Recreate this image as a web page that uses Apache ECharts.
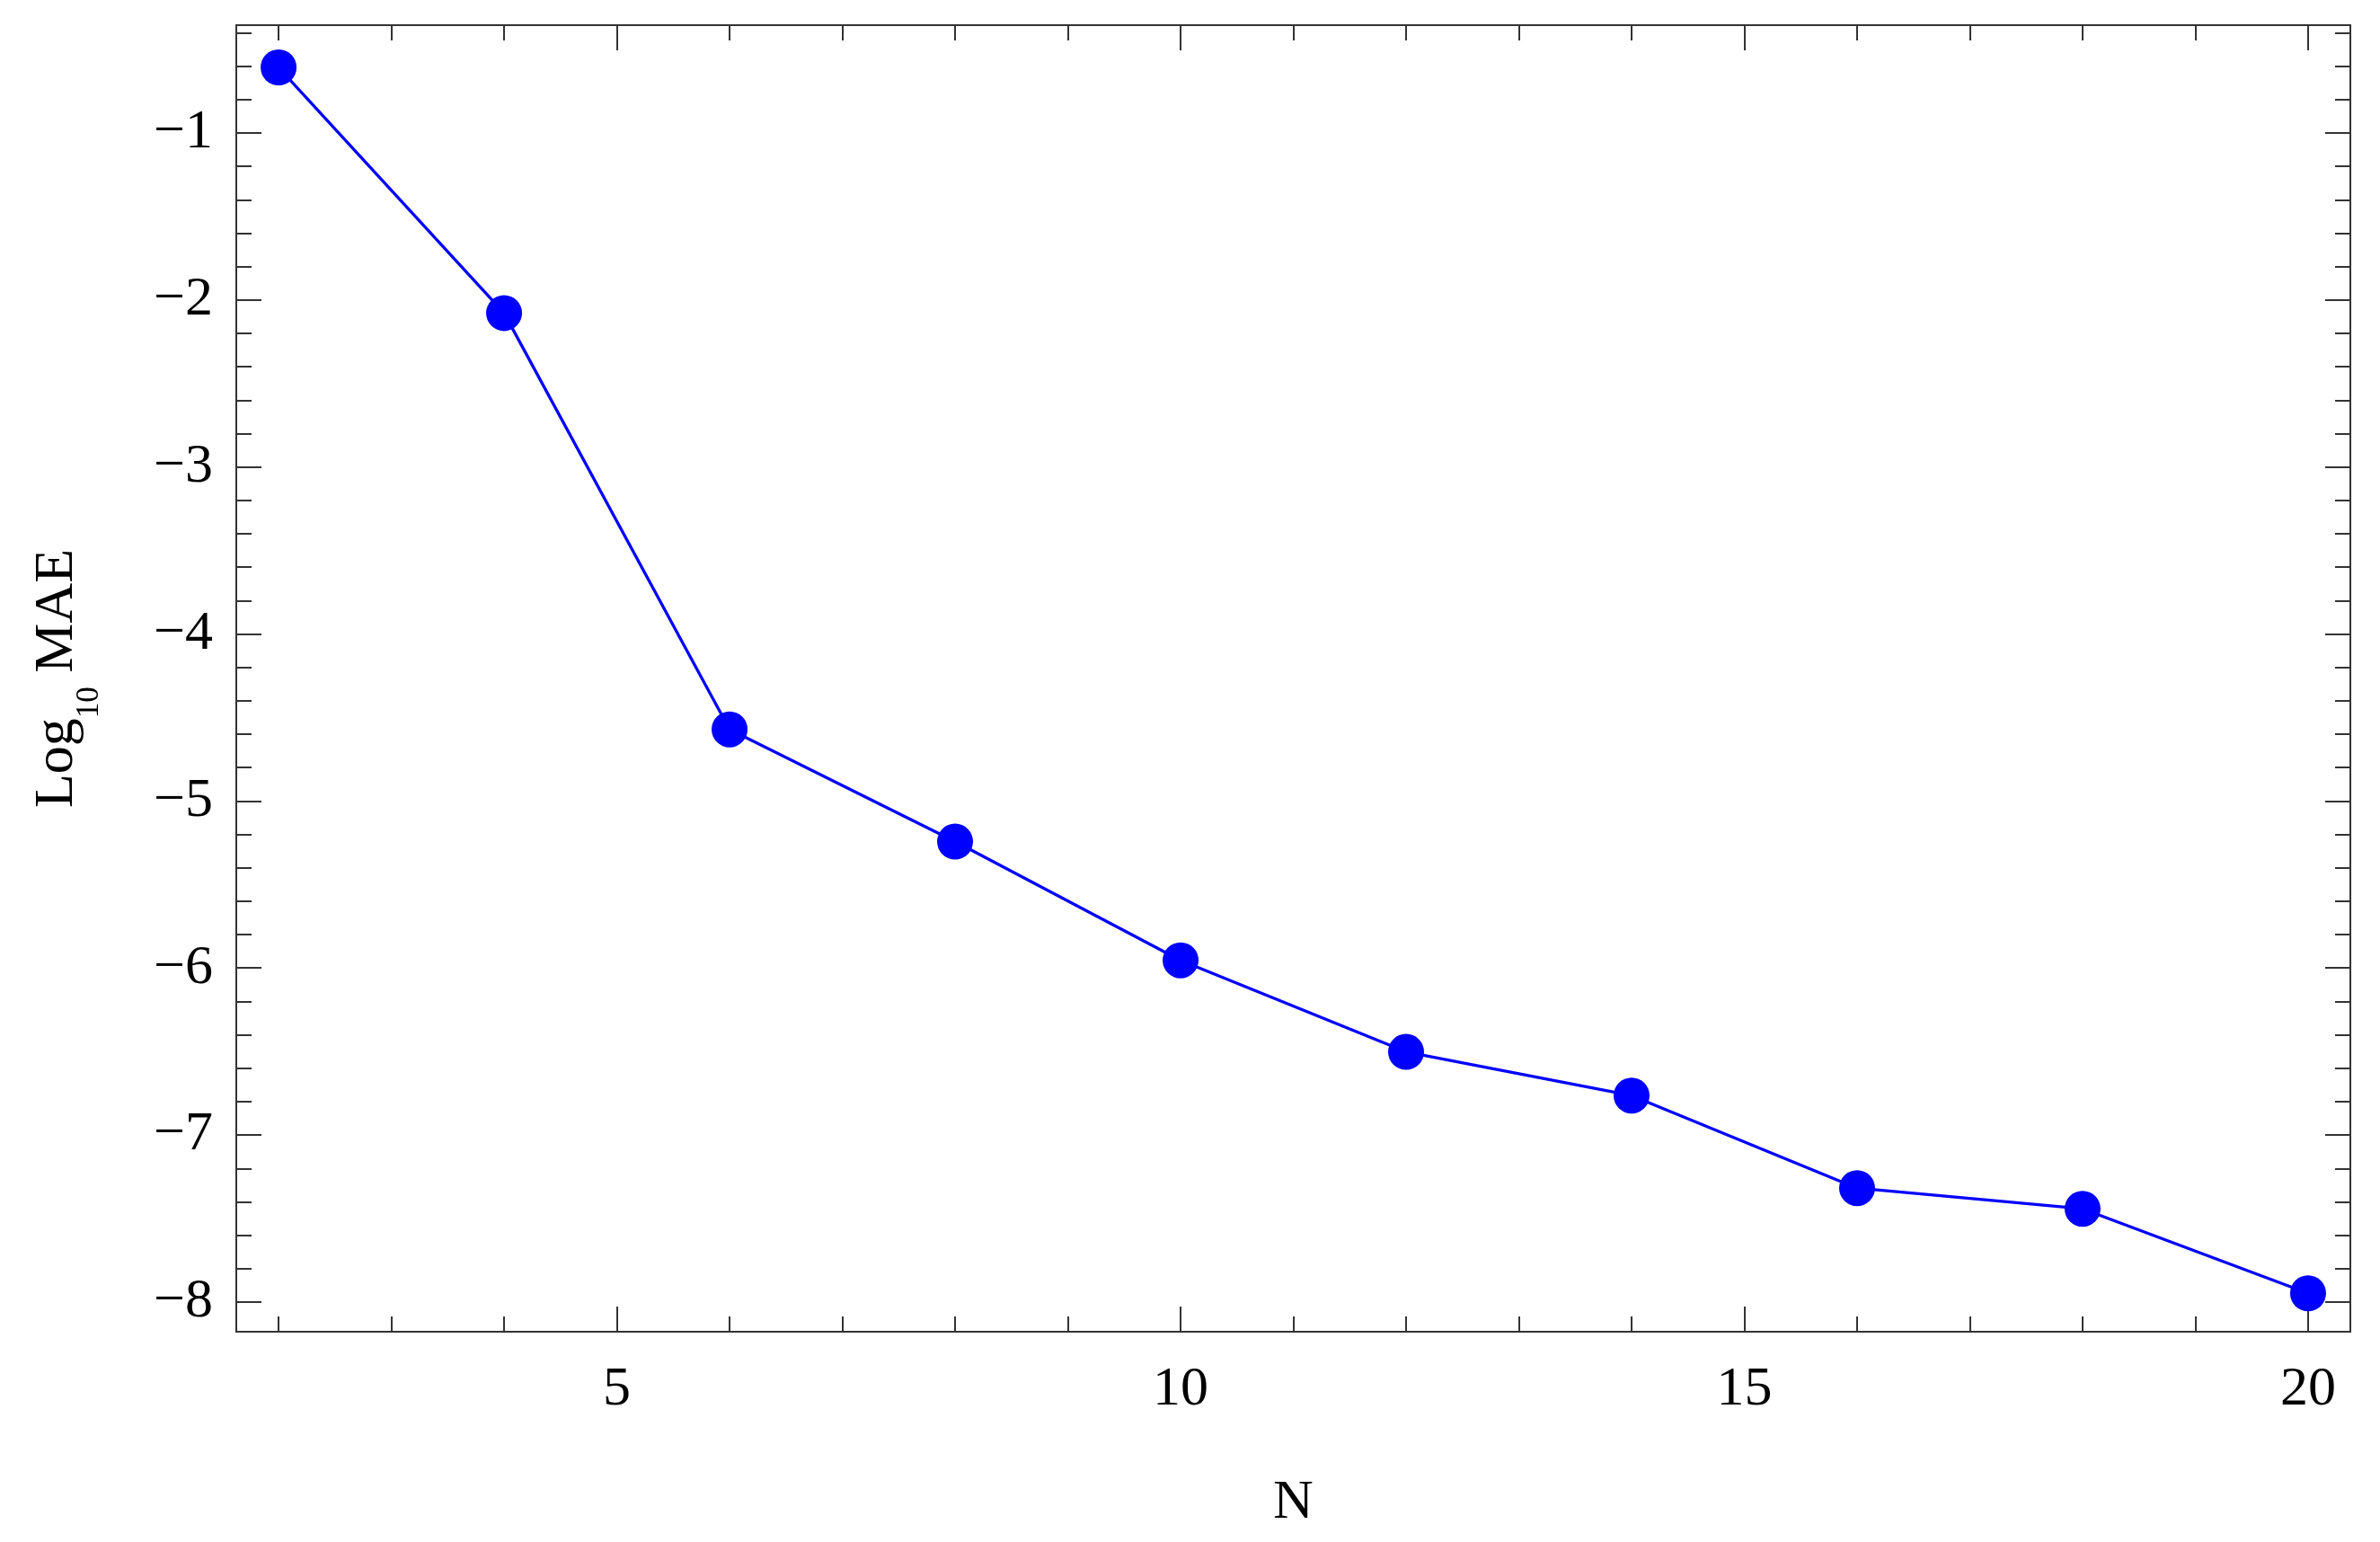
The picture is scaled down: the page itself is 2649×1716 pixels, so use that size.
<!DOCTYPE html>
<html>
<head>
<meta charset="utf-8">
<style>
  html, body { margin: 0; padding: 0; background: #ffffff; }
  #chart { width: 2649px; height: 1716px; }
</style>
<script src="https://cdn.jsdelivr.net/npm/echarts@6/dist/echarts.min.js"></script>
</head>
<body>
<div id="chart"></div>
<script>
// ---- data ----
const nValues = [2, 4, 6, 8, 10, 12, 14, 16, 18, 20];
const logMAE = [-0.607, -2.078, -4.571, -5.243, -5.954, -6.502, -6.764, -7.318, -7.442, -7.948];

// ---- ticks ----
const xMajorTicks = [5, 10, 15, 20];
const xMinorTicks = [2, 3, 4, 6, 7, 8, 9, 11, 12, 13, 14, 16, 17, 18, 19];
const yMajorTicks = [-8, -7, -6, -5, -4, -3, -2, -1];
const yMinorTicks = [];
for (let k = -8; k < 0; k++) {
  for (let j = 1; j <= 4; j++) {
    const v = Math.round((k + j * 0.2) * 10) / 10;
    if (v < -0.35) yMinorTicks.push(v);
  }
}
const xRange = [1.625, 20.375];
const yRange = [-8.178, -0.354];

const frameColor = '#333333';
const fontFam = '"Liberation Serif", "Times New Roman", serif';
const majorLen = 28, minorLen = 17;

function xAxisDef(pos, major, showLine, showLabel) {
  return {
    type: 'value', position: pos, min: xRange[0], max: xRange[1],
    axisLine: { show: showLine, onZero: false, lineStyle: { color: frameColor, width: 2 } },
    axisTick: { show: true, inside: true, length: major ? majorLen : minorLen,
                customValues: major ? xMajorTicks : xMinorTicks,
                lineStyle: { color: frameColor, width: 2 } },
    axisLabel: { show: showLabel, customValues: xMajorTicks, margin: 34,
                 fontFamily: fontFam, fontSize: 62, color: '#000' },
    splitLine: { show: false },
    minorTick: { show: false }
  };
}
function yAxisDef(pos, major, showLine, showLabel) {
  return {
    type: 'value', position: pos, min: yRange[0], max: yRange[1],
    axisLine: { show: showLine, onZero: false, lineStyle: { color: frameColor, width: 2 } },
    axisTick: { show: true, inside: true, length: major ? majorLen : minorLen,
                customValues: major ? yMajorTicks : yMinorTicks,
                lineStyle: { color: frameColor, width: 2 } },
    axisLabel: { show: showLabel, customValues: yMajorTicks, margin: 26,
                 fontFamily: fontFam, fontSize: 62, color: '#000',
                 formatter: v => String(v).replace('-', '\u2212') },
    splitLine: { show: false },
    minorTick: { show: false }
  };
}

const xAxes = [
  Object.assign(xAxisDef('bottom', true, true, true), {
    name: 'N', nameLocation: 'middle', nameGap: 160,
    nameTextStyle: { fontFamily: fontFam, fontSize: 62, color: '#000' }
  }),
  xAxisDef('bottom', false, false, false),
  xAxisDef('top', true, true, false),
  xAxisDef('top', false, false, false)
];
const yAxes = [
  Object.assign(yAxisDef('left', true, true, true), {
    name: '{m|Log}{s|10}{m| MAE}', nameLocation: 'middle', nameGap: 168, nameRotate: 90,
    nameTextStyle: {
      fontFamily: fontFam, fontSize: 62, color: '#000',
      rich: {
        m: { fontFamily: fontFam, fontSize: 62, lineHeight: 62, color: '#000', verticalAlign: 'top' },
        s: { fontFamily: fontFam, fontSize: 35, lineHeight: 35, color: '#000', verticalAlign: 'top', padding: [49, 0, 0, 0] }
      }
    }
  }),
  yAxisDef('left', false, false, false),
  yAxisDef('right', true, true, false),
  yAxisDef('right', false, false, false)
];

const chart = echarts.init(document.getElementById('chart'), null, { renderer: 'canvas' });
chart.setOption({
  animation: false,
  backgroundColor: '#ffffff',
  grid: { left: 263, right: 33, top: 28, bottom: 234, containLabel: false, outerBoundsMode: 'none' },
  xAxis: xAxes,
  yAxis: yAxes,
  series: [{
    type: 'line',
    xAxisIndex: 0, yAxisIndex: 0,
    data: nValues.map((n, i) => [n, logMAE[i]]),
    symbol: 'circle', symbolSize: 40,
    lineStyle: { color: '#0000ff', width: 3.3 },
    itemStyle: { color: '#0000ff' },
    z: 5
  }]
});
</script>
</body>
</html>
